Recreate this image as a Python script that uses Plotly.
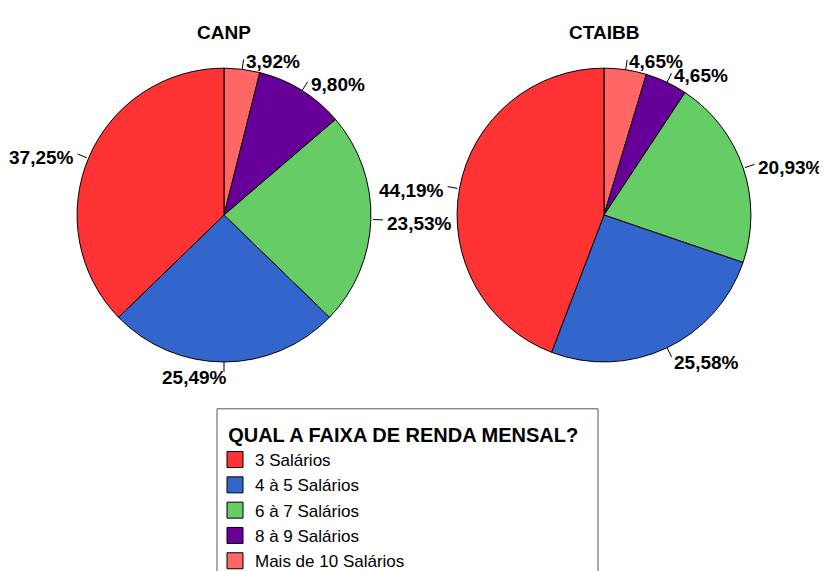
import math
import plotly.graph_objects as go

# ---- data ----
categories = ["3 Salários", "4 à 5 Salários", "6 à 7 Salários", "8 à 9 Salários", "Mais de 10 Salários"]
canp_values = [37.25, 25.49, 23.53, 9.80, 3.92]
ctaibb_values = [44.19, 25.58, 20.93, 4.65, 4.65]
chart_titles = ["CANP", "CTAIBB"]
legend_title = "QUAL A FAIXA DE RENDA MENSAL?"
colors = ["#FF3333", "#3366CC", "#66CC66", "#660099", "#FF6666"]

W, H = 827, 571
FONT = "Liberation Sans, Arial, sans-serif"
OX, OY = 8, 4  # page offset of the figure


def px(x):
    return (x - OX) / W


def py(y):
    return (H - (y - OY)) / H


# pie geometry (screen pixels)
R = 149
centers = [(224, 214), (604, 214)]

fig = go.Figure()
annotations = []
shapes = []

for (cx, cy), vals, title in zip(centers, [canp_values, ctaibb_values], chart_titles):
    order = list(range(len(categories)))[::-1]
    labs = [categories[i] for i in order]
    v = [vals[i] for i in order]
    cols = [colors[i] for i in order]
    fig.add_trace(go.Pie(
        labels=labs, values=v, sort=False, direction="clockwise", rotation=0,
        marker=dict(colors=cols, line=dict(color="black", width=1)),
        textinfo="none", hoverinfo="label+percent", showlegend=False,
        domain=dict(x=[px(cx - R), px(cx + R)], y=[py(cy + R), py(cy - R)]),
    ))
    annotations.append(dict(text=f"<b>{title}</b>", x=px(cx), y=py(29), xref="paper", yref="paper",
                            showarrow=False, font=dict(family=FONT, size=19, color="black"),
                            xanchor="center", yanchor="middle"))
    total = sum(v)
    cum = 0.0
    for val in v:
        mid = (cum + val / 2) / total * 2 * math.pi
        cum += val
        s, c = math.sin(mid), math.cos(mid)
        x0, y0 = cx + R * s, cy - R * c
        x1, y1 = cx + (R + 10) * s, cy - (R + 10) * c
        xt, yt = cx + (R + 12) * s, cy - (R + 12) * c + 4
        if s > 0.05:
            xa = "left"
        elif s < -0.05:
            xa = "right"
        else:
            xa = "right"
            xt += 5
        shapes.append(dict(type="line", xref="paper", yref="paper",
                           x0=px(x0), y0=py(y0), x1=px(x1), y1=py(y1),
                           line=dict(color="black", width=1)))
        annotations.append(dict(text="<b>" + f"{val:.2f}%".replace(".", ",") + "</b>",
                                x=px(xt), y=py(yt), xref="paper", yref="paper",
                                showarrow=False, xanchor=xa, yanchor="middle",
                                font=dict(family=FONT, size=19, color="black")))

# legend entries (one per category)
for i, (cat, col) in enumerate(zip(categories, colors)):
    fig.add_trace(go.Scatter(
        x=[None], y=[None], mode="markers", name=cat, legendgroup=f"g{i}",
        marker=dict(symbol="square", size=18, color=col, line=dict(color="black", width=1)),
        showlegend=True, hoverinfo="skip",
    ))

# legend frame
shapes.append(dict(type="rect", xref="paper", yref="paper",
                   x0=px(217), x1=px(598), y0=-0.2, y1=py(410.5),
                   line=dict(color="#555555", width=1), fillcolor="rgba(0,0,0,0)"))

fig.update_layout(
    width=W, height=H,
    margin=dict(l=0, r=0, t=0, b=0),
    paper_bgcolor="white", plot_bgcolor="white",
    xaxis=dict(visible=False), yaxis=dict(visible=False),
    annotations=annotations, shapes=shapes,
    legend=dict(
        x=px(215), y=py(418), xanchor="left", yanchor="top",
        title=dict(text=f"&nbsp;&nbsp;<b>{legend_title}</b>", side="top",
                   font=dict(family=FONT, size=20, color="black")),
        font=dict(family=FONT, size=17, color="black"),
        bgcolor="rgba(0,0,0,0)", borderwidth=0, tracegroupgap=0.2,
        itemclick=False, itemdoubleclick=False,
    ),
    font=dict(family=FONT),
)

fig.write_html("out.html")
